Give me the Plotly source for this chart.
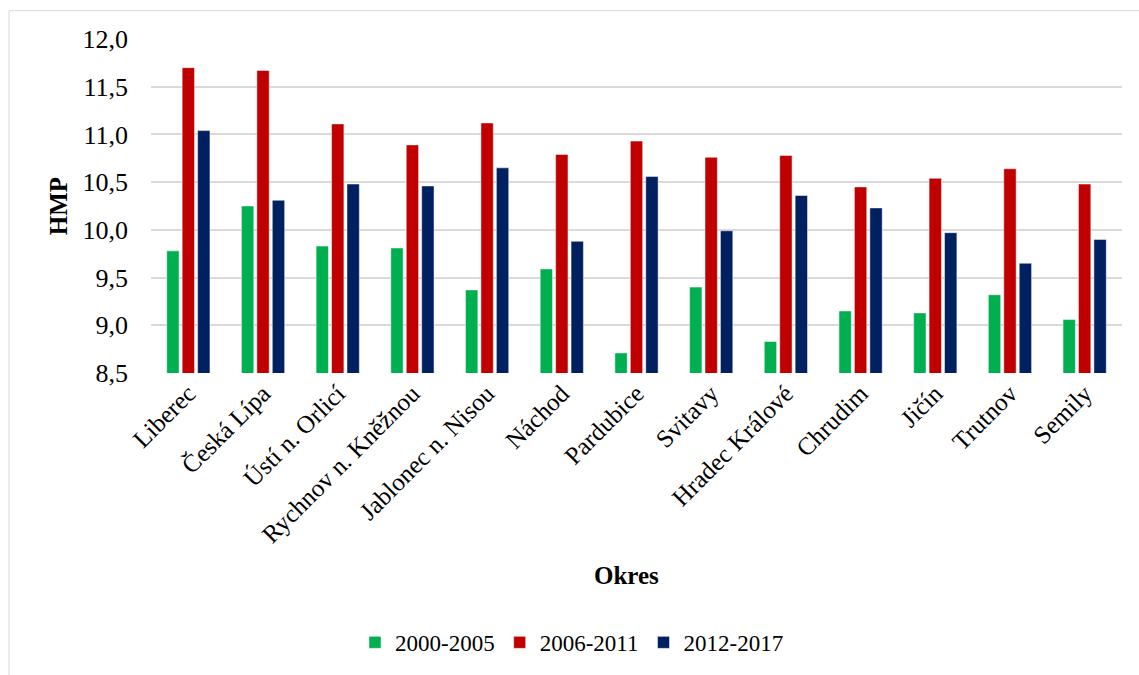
import plotly.graph_objects as go

# Districts (okresy) and mean HMP values for three periods
okresy = ["Liberec", "Česká Lípa", "Ústí n. Orlicí", "Rychnov n. Kněžnou",
          "Jablonec n. Nisou", "Náchod", "Pardubice", "Svitavy",
          "Hradec Králové", "Chrudim", "Jičín", "Trutnov", "Semily"]
hmp_2000_2005 = [9.78, 10.25, 9.83, 9.81, 9.37, 9.59, 8.71, 9.40, 8.83, 9.15, 9.13, 9.32, 9.06]
hmp_2006_2011 = [11.70, 11.67, 11.11, 10.89, 11.12, 10.79, 10.93, 10.76, 10.78, 10.45, 10.54, 10.64, 10.48]
hmp_2012_2017 = [11.04, 10.31, 10.48, 10.46, 10.65, 9.88, 10.56, 9.99, 10.36, 10.23, 9.97, 9.65, 9.90]
y_ticks = [8.5, 9.0, 9.5, 10.0, 10.5, 11.0, 11.5, 12.0]

series = [
    ("2000-2005", hmp_2000_2005, "#00B050"),
    ("2006-2011", hmp_2006_2011, "#C00000"),
    ("2012-2017", hmp_2012_2017, "#002060"),
]

FONT = "Liberation Serif"

fig = go.Figure()
for name, vals, color in series:
    fig.add_trace(go.Bar(
        x=okresy, y=vals, name=name,
        marker=dict(color=color, line=dict(color="rgba(255,255,255,0.6)", width=0.8)),
    ))

W, H = 1139, 675
L, R, T, B = 151, 17, 39, 300
pw = W - L - R
ph = H - T - B

fig.update_layout(
    width=W, height=H,
    margin=dict(l=L, r=R, t=T, b=B),
    paper_bgcolor="white", plot_bgcolor="white",
    barmode="group", bargap=0.38, bargroupgap=0.2,
    separators=", ",
    font=dict(family=FONT, size=25, color="black"),
    showlegend=True,
    legend=dict(
        orientation="h", x=(572 - L) / pw, xanchor="center",
        y=(H - B - 646) / ph, yanchor="middle",
        font=dict(family=FONT, size=23, color="black"),
        itemwidth=30, tracegroupgap=0,
    ),
    xaxis=dict(
        tickangle=-45, tickfont=dict(family=FONT, size=25, color="black"),
        showgrid=False, showline=False, ticks="",
        automargin=False,
    ),
    yaxis=dict(
        range=[8.5, 12.0], tickvals=y_ticks, tickformat=".1f",
        tickfont=dict(family=FONT, size=26, color="black"),
        showgrid=True, gridcolor="#d9d9d9", gridwidth=1.5,
        zeroline=False, showline=False, ticks="",
        ticklabelstandoff=22,
        title=dict(text="<b>HMP</b>", font=dict(family=FONT, size=25), standoff=7),
        automargin=False,
    ),
)

# x-axis title placed under the rotated category labels
fig.add_annotation(
    text="<b>Okres</b>", xref="paper", yref="paper",
    x=(626 - L) / pw, y=(H - B - 579) / ph,
    xanchor="center", yanchor="middle", showarrow=False,
    font=dict(family=FONT, size=25, color="black"),
)

# Light outer frame of the chart area
fig.add_shape(
    type="rect", xref="paper", yref="paper",
    x0=(9 - L) / pw, x1=(W + 5 - L) / pw,
    y0=(H - B - (H + 5)) / ph, y1=(H - B - 10.5) / ph,
    line=dict(color="#d9d9d9", width=1), fillcolor="rgba(0,0,0,0)", layer="below",
)

fig.write_html("out.html")
